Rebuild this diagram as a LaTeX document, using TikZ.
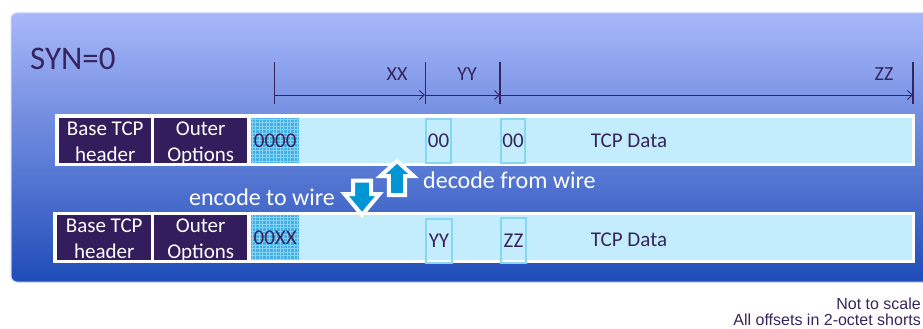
\documentclass[tikz,border=0pt]{standalone}
\usepackage{fontspec}
\setmainfont{Carlito}
\newfontfamily\notefont{Liberation Sans}
\usetikzlibrary{arrows.meta}
\definecolor{ink}{HTML}{36245F}
\definecolor{plum}{HTML}{341D5C}
\definecolor{paneltop}{HTML}{A8B8FA}
\definecolor{panelmid}{HTML}{7C91DE}
\definecolor{panelbot}{HTML}{1F4CB8}
\definecolor{paneledge}{HTML}{C9D2F0}
\definecolor{wire}{HTML}{C3ECFC}
\definecolor{slot}{HTML}{86D6F6}
\definecolor{hatch}{HTML}{40B0E6}
\definecolor{hatchline}{HTML}{86D2F4}
\definecolor{flow}{HTML}{0096D6}

\begin{document}
\begin{tikzpicture}[x=1pt,y=-1pt,text=ink,inner sep=0pt,
 frame/.style={fill=white,anchor=north west},
 hdr/.style={fill=plum,anchor=north west},
 hdrtext/.style={text=white,align=center,font=\fontsize{21}{26}\selectfont},
 cell/.style={anchor=north west,font=\fontsize{21}{24}\selectfont},
 slotbox/.style={cell,draw=slot,line width=2pt},
 dimtext/.style={font=\fontsize{20}{24}\selectfont,anchor=base},
 dim/.style={draw=ink,line width=.9pt,-{Straight Barb[length=5pt,width=9pt]}},
 tick/.style={draw=ink,line width=.9pt},
 flowarrow/.style={fill=flow,draw=white,line width=4pt,line join=miter},
 flowtext/.style={text=white,font=\fontsize{24}{28}\selectfont}]
\path[use as bounding box] (0,0) rectangle (923,329);
\clip (0,0) rectangle (923,329);
\shade[top color=paneltop,middle color=panelmid,bottom color=panelbot,rounded corners=6pt] (11,13) rectangle (950,282);
\draw[paneledge,line width=1pt,rounded corners=6pt] (11,13) rectangle (950,282);
\node[anchor=base west,font=\fontsize{33}{36}\selectfont] (syn) at (30,70) {SYN=0};
\coordinate (d0) at (274,95);
\coordinate (d1) at (425,95);
\coordinate (d2) at (500,95);
\coordinate (d3) at (913,95);
\draw[tick] ([yshift=33pt]d0) -- ([yshift=-9pt]d0);
\draw[tick] ([yshift=33pt]d1) -- ([yshift=-9pt]d1);
\draw[tick,line width=1.8pt] ([yshift=33pt]d2) -- ([yshift=-9pt]d2);
\draw[tick,line width=1.8pt] ([yshift=33pt]d3) -- ([yshift=-9pt]d3);
\draw[dim] (d0) -- (d1);
\draw[dim] (d1) -- (d2);
\draw[dim] (d2) -- (d3);
\node[dimtext] (xx) at (397,80) {XX};
\node[dimtext] (yy) at (467,80) {YY};
\node[dimtext] (zz) at (884,80) {ZZ};
\node[frame,minimum width=860,minimum height=52] (row1) at (55,114) {};
\node[cell,fill=wire,minimum width=661,minimum height=45] (data1) at (251,118) {};
\node[hdr,minimum width=92,minimum height=45] (base1) at (59,118) {};
\node[hdr,minimum width=93,minimum height=45] (opts1) at (154,118) {};
\node[hdrtext] (base1t) at ([yshift=-1pt]base1.center) {Base TCP\\header};
\node[hdrtext] (opts1t) at ([yshift=-3pt]opts1.center) {Outer\\Options};
\node[cell,fill=hatch,minimum width=48,minimum height=45] (pad1) at (251,118) {};
\begin{scope}
\clip (pad1.north west) rectangle (pad1.south east);
\draw[hatchline,line width=.5pt,step=3.5pt] (pad1.south west) grid (pad1.north east);
\end{scope}
\node[font=\fontsize{21}{24}\selectfont] (pad1t) at (pad1.center) {0000};
\node[slotbox,minimum width=25,minimum height=44] (x1) at (425,118) {00};
\node[slotbox,minimum width=24,minimum height=44] (y1) at (500,118) {00};
\node[font=\fontsize{21}{24}\selectfont,anchor=base] (tcp1) at (629,147) {TCP Data};
\node[frame,minimum width=862,minimum height=51] (row2) at (53,212) {};
\node[cell,fill=wire,minimum width=661,minimum height=45] (data2) at (251,215) {};
\node[hdr,minimum width=94,minimum height=45] (base2) at (57,215) {};
\node[hdr,minimum width=93,minimum height=45] (opts2) at (154,215) {};
\node[hdrtext] (base2t) at ([yshift=-1pt]base2.center) {Base TCP\\header};
\node[hdrtext] (opts2t) at ([yshift=-3pt]opts2.center) {Outer\\Options};
\node[cell,fill=hatch,minimum width=48,minimum height=45] (pad2) at (251,215) {};
\begin{scope}
\clip (pad2.north west) rectangle (pad2.south east);
\draw[hatchline,line width=.5pt,step=3.5pt] (pad2.south west) grid (pad2.north east);
\end{scope}
\node[font=\fontsize{21}{24}\selectfont] (pad2t) at (pad2.center) {00XX};
\node[slotbox,minimum width=26,minimum height=44] (x2) at (425,218) {YY};
\node[slotbox,minimum width=25,minimum height=45] (y2) at (500,217) {ZZ};
\node[font=\fontsize{21}{24}\selectfont,anchor=base] (tcp2) at (629,246) {TCP Data};
\draw[flowarrow] (388.8,195) -- (388.8,176) -- (380.5,176) -- (397,161) -- (413.5,176) -- (405.2,176) -- (405.2,195) -- cycle;
\draw[flowarrow] (353,180.5) -- (371,180.5) -- (371,194) -- (379.5,194) -- (362,215) -- (344.5,194) -- (353,194) -- cycle;
\node[flowtext,anchor=base west] (decode) at (423,188) {decode from wire};
\node[flowtext,anchor=base east] (encode) at (335,205) {encode to wire};
\node[anchor=base east,font=\notefont\fontsize{16}{18}\selectfont] (scale) at (921,309) {Not to scale};
\node[anchor=base east,font=\notefont\fontsize{16}{18}\selectfont] (shorts) at (921,325) {All offsets in 2-octet shorts};
\end{tikzpicture}
\end{document}
